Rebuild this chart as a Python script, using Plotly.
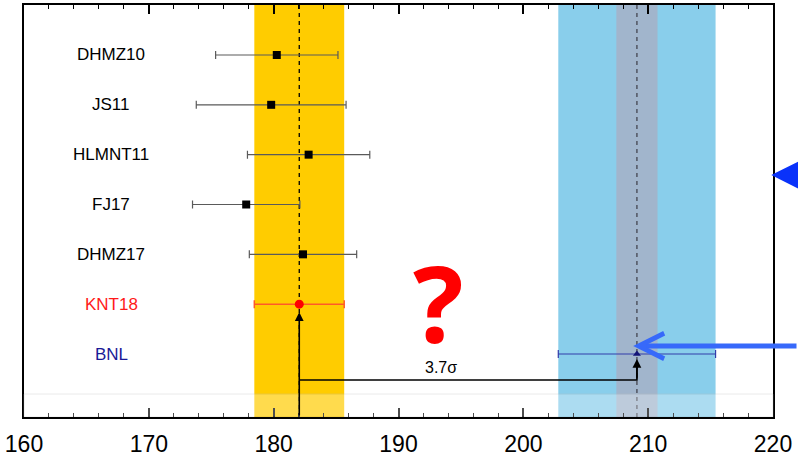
import plotly.graph_objects as go

# ---- data ----
labels = ["DHMZ10", "JS11", "HLMNT11", "FJ17", "DHMZ17", "KNT18", "BNL"]
values = [180.25, 179.8, 182.8, 177.8, 182.35, 182.05, 209.1]
errors = [4.9, 6.0, 4.9, 4.3, 4.3, 3.6, 6.3]
future_center = 209.1
future_error = 1.65
sigma_text = "3.7σ"
x_ticks = [160, 170, 180, 190, 200, 210, 220]

rows = list(range(len(labels)))
label_colors = ["black"] * 5 + ["rgb(255,25,25)", "rgb(25,25,150)"]

Y_TOP, Y_BOT = -1.003, 7.264
knt_i = labels.index("KNT18")
bnl_i = labels.index("BNL")
knt, bnl = values[knt_i], values[bnl_i]
knt_e, bnl_e = errors[knt_i], errors[bnl_i]

fig = go.Figure()

# black points
fig.add_trace(go.Scatter(
    x=values[:5], y=rows[:5], mode="markers",
    marker=dict(symbol="square", size=8, color="black"),
    error_x=dict(type="data", array=errors[:5], color="rgb(90,90,90)", thickness=1.2, width=4),
    showlegend=False, hoverinfo="skip"))
# KNT18
fig.add_trace(go.Scatter(
    x=[knt], y=[knt_i], mode="markers",
    marker=dict(symbol="circle", size=9, color="rgb(255,0,0)"),
    error_x=dict(type="data", array=[knt_e], color="rgb(255,90,40)", thickness=1.5, width=4),
    showlegend=False, hoverinfo="skip"))
# BNL
fig.add_trace(go.Scatter(
    x=[bnl], y=[bnl_i], mode="markers",
    marker=dict(symbol="triangle-up", size=7, color="rgb(20,20,120)"),
    error_x=dict(type="data", array=[bnl_e], color="rgb(50,60,170)", thickness=1.2, width=4),
    showlegend=False, hoverinfo="skip"))

conn_y = 6.522
# connector line
fig.add_trace(go.Scatter(
    x=[knt, bnl, bnl], y=[conn_y, conn_y, 6.2], mode="lines",
    line=dict(color="black", width=1.6), showlegend=False, hoverinfo="skip"))

shapes = [
    dict(type="rect", xref="x", yref="paper", x0=knt - knt_e, x1=knt + knt_e, y0=0, y1=1,
         fillcolor="#FFCC00", line_width=0, layer="below"),
    dict(type="rect", xref="x", yref="paper", x0=bnl - bnl_e, x1=bnl + bnl_e, y0=0, y1=1,
         fillcolor="rgb(137,206,235)", line_width=0, layer="below"),
    dict(type="rect", xref="x", yref="paper", x0=future_center - future_error,
         x1=future_center + future_error, y0=0, y1=1,
         fillcolor="rgb(161,181,204)", line_width=0, layer="below"),
    dict(type="line", xref="x", yref="paper", x0=knt, x1=knt, y0=0, y1=1,
         line=dict(color="black", width=1.3, dash="4px,4px"), layer="below"),
    dict(type="line", xref="x", yref="paper", x0=future_center, x1=future_center, y0=0, y1=1,
         line=dict(color="rgb(60,60,70)", width=1.2, dash="4px,4px"), layer="below"),
    dict(type="rect", xref="paper", yref="y", x0=0, x1=1, y0=6.803, y1=Y_BOT,
         fillcolor="white", opacity=0.3, line=dict(color="rgb(190,190,190)", width=1), layer="above"),
]

annotations = []
for i, (lab, col) in enumerate(zip(labels, label_colors)):
    annotations.append(dict(x=167, y=i, xref="x", yref="y", text=lab, showarrow=False,
                            font=dict(family="Liberation Sans", size=17, color=col)))

# vertical arrow up to KNT18
annotations.append(dict(x=knt, y=5.16, xref="x", yref="y", ax=knt, ay=Y_BOT,
                        axref="x", ayref="y", text="", showarrow=True, arrowhead=2,
                        arrowsize=1.1, arrowwidth=1.6, arrowcolor="black"))
# arrow up to BNL
annotations.append(dict(x=bnl, y=6.1, xref="x", yref="y", ax=bnl, ay=conn_y,
                        axref="x", ayref="y", text="", showarrow=True, arrowhead=2,
                        arrowsize=1.1, arrowwidth=1.6, arrowcolor="black"))
# sigma text
annotations.append(dict(x=(knt + bnl) / 2 - 2.2, y=6.28, xref="x", yref="y", text=sigma_text,
                        showarrow=False, font=dict(family="Liberation Sans", size=16, color="black")))
# question mark
annotations.append(dict(x=193.2, y=4.95, xref="x", yref="y", text="<b>?</b>", showarrow=False,
                        font=dict(family="Open Sans", size=106, color="rgb(255,0,0)")))
# blue arrow to BNL
annotations.append(dict(x=208.8, y=5.84, xref="x", yref="y", ax=220, ay=0, text="",
                        showarrow=True, arrowhead=5, arrowsize=1.0, arrowwidth=5,
                        arrowcolor="rgb(55,105,250)"))
# blue arrow head at right edge
annotations.append(dict(x=219.86, y=2.41, xref="x", yref="y", ax=150, ay=0, text="",
                        showarrow=True, arrowhead=3, arrowsize=1.0, arrowwidth=9,
                        arrowcolor="rgb(10,50,250)"))

fig.update_layout(
    width=798, height=459,
    margin=dict(l=24, r=25, t=5, b=42),
    paper_bgcolor="white", plot_bgcolor="white",
    shapes=shapes, annotations=annotations,
    xaxis=dict(range=[160, 220], tickvals=x_ticks, ticktext=[str(t) for t in x_ticks],
               ticks="inside", ticklen=9, tickwidth=1.5, tickcolor="black",
               showline=True, linecolor="black", linewidth=1.5, mirror="ticks",
               showgrid=False, zeroline=False, ticklabelstandoff=6, automargin=False,
               tickfont=dict(family="Liberation Sans", size=23, color="black"),
               minor=dict(dtick=2, tick0=160, ticks="inside", ticklen=4.5, tickwidth=1.2,
                          tickcolor="black", showgrid=False)),
    yaxis=dict(range=[Y_BOT, Y_TOP], showticklabels=False, ticks="", automargin=False,
               showline=True, linecolor="black", linewidth=1.5, mirror=True,
               showgrid=False, zeroline=False),
)

fig.write_html("out.html", config={"displayModeBar": False},
               post_script="document.body.style.margin='0px';document.body.style.overflow='hidden';")
